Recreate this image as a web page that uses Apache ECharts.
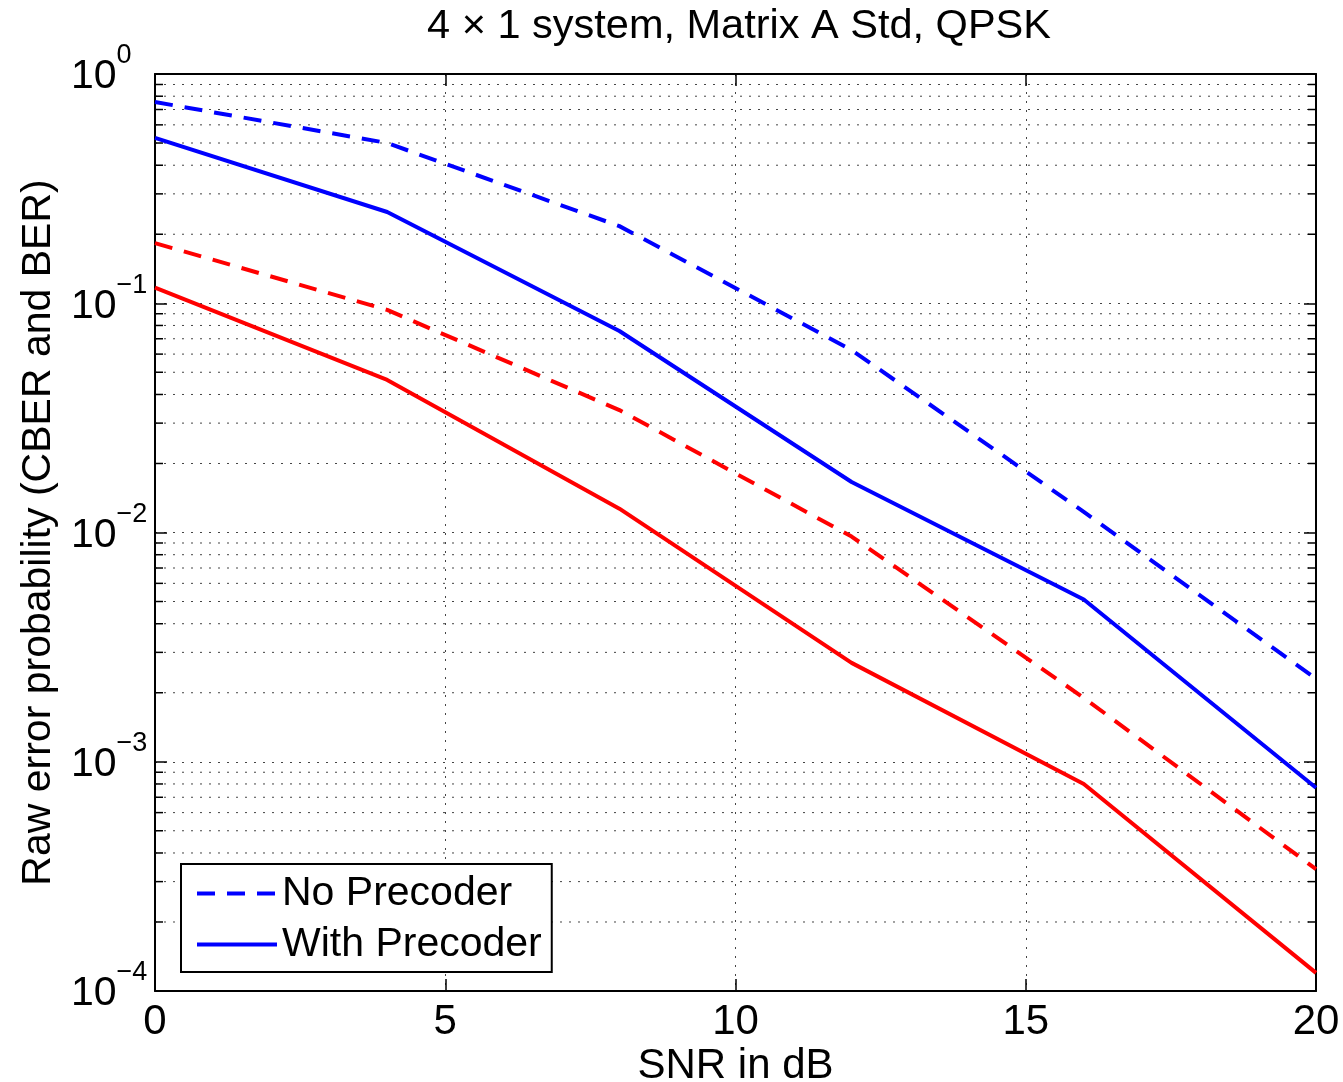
<!DOCTYPE html>
<html>
<head>
<meta charset="utf-8">
<title>4x1 system, Matrix A Std, QPSK</title>
<script src="https://cdn.jsdelivr.net/npm/echarts@6/dist/echarts.min.js"></script>
<style>
  html, body { margin: 0; padding: 0; background: #fff; }
  #chart { width: 1343px; height: 1082px; }
</style>
</head>
<body>
<div id="chart"></div>
<script>
// SNR points (dB)
const snr = [0, 4, 8, 12, 16, 20]
// blue curves
const noPrecBlue = [0.755, 0.50, 0.217, 0.0625, 0.0123, 0.0023]
const withPrecBlue = [0.526, 0.25, 0.0757, 0.0166, 0.0051, 0.00077]
// red curves
const noPrecRed = [0.183, 0.0935, 0.0342, 0.0096, 0.0019, 0.00034]
const withPrecRed = [0.117, 0.0463, 0.0127, 0.0027, 0.0008, 0.00012]
// minor log ticks (2..9 per decade)
const minorVals = [
  0.0002, 0.0003, 0.0004, 0.0005, 0.0006, 0.0007, 0.0008, 0.0009,
  0.002, 0.003, 0.004, 0.005, 0.006, 0.007, 0.008, 0.009,
  0.02, 0.03, 0.04, 0.05, 0.06, 0.07, 0.08, 0.09,
  0.2, 0.3, 0.4, 0.5, 0.6, 0.7, 0.8, 0.9,
]

const FONT = "'Liberation Sans', Arial, sans-serif"
const BLUE = '#0000ff'
const RED = '#ff0000'

function pairs(ys) {
  return snr.map(function (x, i) {
    return [x, ys[i]]
  })
}

const chart = echarts.init(document.getElementById('chart'))

const dotted = { color: '#444', width: 1, type: [2, 7] }
const boxLine = { onZero: false, lineStyle: { color: '#000', width: 2 } }
const majorTick = { inside: true, length: 12, lineStyle: { color: '#000', width: 1.5 } }

const option = {
  backgroundColor: '#fff',
  animation: false,
  textStyle: { fontFamily: FONT, color: '#000' },
  title: {
    text: '4 \u00d7 1 system, Matrix A Std, QPSK',
    left: 734,
    textAlign: 'center',
    top: 1,
    textStyle: { fontSize: 41.5, fontWeight: 'normal', fontFamily: FONT, color: '#000' },
  },
  grid: {
    left: 155,
    right: 27,
    top: 74,
    bottom: 91,
    containLabel: false,
    outerBoundsMode: 'none',
  },
  legend: {
    data: ['No Precoder', 'With Precoder'],
    orient: 'vertical',
    left: 181,
    top: 864,
    itemWidth: 80,
    itemHeight: 14,
    itemGap: 10,
    padding: [9, 10, 7, 14],
    borderColor: '#000',
    borderWidth: 2,
    backgroundColor: '#fff',
    itemStyle: { color: 'rgba(0,0,0,0)', borderWidth: 0, opacity: 0 },
    lineStyle: { width: 4 },
    textStyle: { fontSize: 41, fontFamily: FONT, color: '#000' },
  },
  xAxis: [
    {
      type: 'value',
      min: 0,
      max: 20,
      interval: 5,
      name: 'SNR in dB',
      nameLocation: 'middle',
      nameGap: 54,
      nameMoveOverlap: false,
      nameTextStyle: { fontSize: 42, fontFamily: FONT, color: '#000' },
      axisLine: boxLine,
      axisTick: majorTick,
      axisLabel: { fontSize: 42, margin: 10, color: '#000', fontFamily: FONT },
      splitLine: { show: true, lineStyle: dotted },
    },
    {
      type: 'value',
      position: 'top',
      min: 0,
      max: 20,
      interval: 5,
      axisLine: boxLine,
      axisTick: majorTick,
      axisLabel: { show: false },
      splitLine: { show: false },
    },
  ],
  yAxis: [
    {
      type: 'log',
      logBase: 10,
      min: 0.0001,
      max: 1,
      name: 'Raw error probability (CBER and BER)',
      nameLocation: 'middle',
      nameGap: 96,
      nameMoveOverlap: false,
      nameTextStyle: { fontSize: 41, fontFamily: FONT, color: '#000' },
      axisLine: boxLine,
      axisTick: majorTick,
      axisLabel: {
        margin: 84,
        align: 'left',
        formatter: function (v) {
          const e = Math.round(Math.log10(v))
          const s = e < 0 ? '\u2212' + Math.abs(e) : String(e)
          return '{b|10}{s|' + s + '}'
        },
        rich: {
          b: { fontSize: 41, fontFamily: FONT, color: '#000', padding: [6, 0, 0, 0] },
          s: { fontSize: 27, fontFamily: FONT, color: '#000', padding: [0, 0, 36, 0] },
        },
      },
      splitLine: { show: true, lineStyle: dotted },
    },
    {
      type: 'log',
      logBase: 10,
      min: 0.0001,
      max: 1,
      position: 'right',
      axisLine: boxLine,
      axisTick: majorTick,
      axisLabel: { show: false },
      splitLine: { show: false },
    },
  ],
  series: [
    {
      // minor grid lines + minor ticks on both sides
      type: 'custom',
      name: 'minor',
      silent: true,
      z: 1,
      data: minorVals.map(function (v) {
        return [0, v]
      }),
      renderItem: function (params, api) {
        const y = api.coord([0, api.value(1)])[1]
        const cs = params.coordSys
        return {
          type: 'group',
          children: [
            {
              type: 'line',
              shape: { x1: cs.x, y1: y, x2: cs.x + cs.width, y2: y },
              style: { stroke: '#444', lineWidth: 1, lineDash: [2, 7] },
            },
            {
              type: 'line',
              shape: { x1: cs.x, y1: y, x2: cs.x + 8, y2: y },
              style: { stroke: '#000', lineWidth: 1.5 },
            },
            {
              type: 'line',
              shape: { x1: cs.x + cs.width - 8, y1: y, x2: cs.x + cs.width, y2: y },
              style: { stroke: '#000', lineWidth: 1.5 },
            },
          ],
        }
      },
    },
    {
      name: 'No Precoder',
      type: 'line',
      symbol: 'none',
      z: 3,
      data: pairs(noPrecBlue),
      itemStyle: { color: BLUE },
      lineStyle: { color: BLUE, width: 4, type: [18, 12] },
    },
    {
      name: 'With Precoder',
      type: 'line',
      symbol: 'none',
      z: 3,
      data: pairs(withPrecBlue),
      itemStyle: { color: BLUE },
      lineStyle: { color: BLUE, width: 4, type: 'solid' },
    },
    {
      name: 'No Precoder (red)',
      type: 'line',
      symbol: 'none',
      z: 3,
      data: pairs(noPrecRed),
      itemStyle: { color: RED },
      lineStyle: { color: RED, width: 4, type: [18, 12] },
    },
    {
      name: 'With Precoder (red)',
      type: 'line',
      symbol: 'none',
      z: 3,
      data: pairs(withPrecRed),
      itemStyle: { color: RED },
      lineStyle: { color: RED, width: 4, type: 'solid' },
    },
  ],
}

chart.setOption(option)
</script>
</body>
</html>
